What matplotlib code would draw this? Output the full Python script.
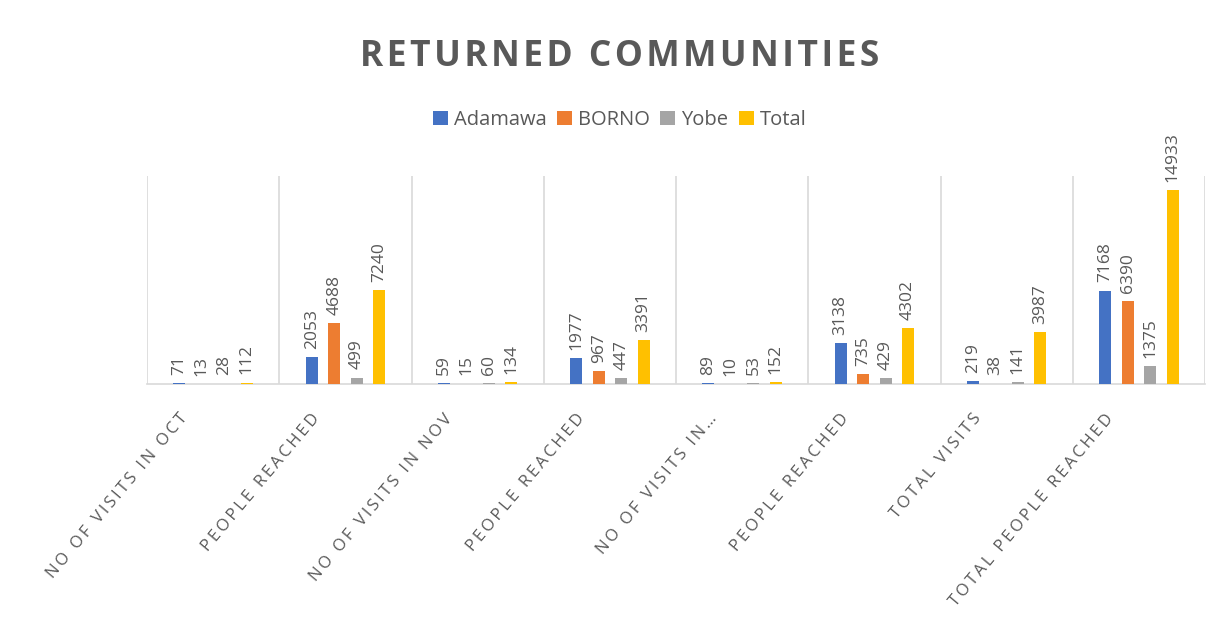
import numpy as np
import matplotlib.pyplot as plt
from matplotlib.transforms import offset_copy

categories = ['NO OF VISITS IN OCT', 'PEOPLE REACHED', 'NO OF VISITS IN NOV',
              'PEOPLE REACHED', 'NO OF VISITS IN…', 'PEOPLE REACHED',
              'TOTAL VISITS', 'TOTAL PEOPLE REACHED']
adamawa = [71, 2053, 59, 1977, 89, 3138, 219, 7168]
borno = [13, 4688, 15, 967, 10, 735, 38, 6390]
yobe = [28, 499, 60, 447, 53, 429, 141, 1375]
total = [112, 7240, 134, 3391, 152, 4302, 3987, 14933]

series = [('Adamawa', adamawa, '#4472C4'), ('BORNO', borno, '#ED7D31'),
          ('Yobe', yobe, '#A5A5A5'), ('Total', total, '#FFC000')]

plt.rcParams['font.family'] = ['Open Sans', 'DejaVu Sans']
text_color = '#595959'


def spaced(s, sep='\u2009'):
    # crude letter spacing, matplotlib has no tracking option
    return sep.join(s)


fig = plt.figure(figsize=(12.25, 6.32), dpi=100)
ax = fig.add_axes([0.12, 0.3924, 0.8637, 0.3291])

x = np.arange(len(categories))
width = 0.09
step = 0.17
for i, (name, vals, color) in enumerate(series):
    pos = x + (i - 1.5) * step
    bars = ax.bar(pos, vals, width, color=color, label=name, zorder=3)
    for b, v in zip(bars, vals):
        ax.annotate(str(v), (b.get_x() + b.get_width() / 2, b.get_height()),
                    xytext=(0, 6), textcoords='offset points', rotation=90,
                    ha='center', va='bottom', fontsize=12.5, color=text_color)

ax.set_xlim(-0.5, len(categories) - 0.5)
ax.set_ylim(0, 16000)

# category separators
for b in np.arange(-0.5, len(categories), 1):
    ax.axvline(b, color='#D9D9D9', lw=1.2, zorder=1)

for s in ['top', 'right', 'left']:
    ax.spines[s].set_visible(False)
ax.spines['bottom'].set_color('#D9D9D9')
ax.spines['bottom'].set_linewidth(1.2)
ax.set_yticks([])
ax.set_xticks(x)
ax.set_xticklabels([])
ax.tick_params(axis='x', length=0)

for xi, lab in zip(x, categories):
    tr = offset_copy(ax.get_xaxis_transform(), fig=fig, x=-28, y=-32, units='dots')
    ax.text(xi, 0, spaced(lab), transform=tr, rotation=50, rotation_mode='anchor',
            ha='right', va='center', fontsize=12, color=text_color)

fig.text(0.506, 0.91, spaced('RETURNED COMMUNITIES', '\u200a'), ha='center', va='center',
         fontsize=25.5, fontweight='bold', color=text_color)

fig.legend(loc='center', bbox_to_anchor=(0.506, 0.81), ncol=4, frameon=False,
           fontsize=14.5, handlelength=0.75, handleheight=0.75, handletextpad=0.3,
           columnspacing=0.5, labelcolor=text_color)

fig.savefig('out.png', dpi=100)
